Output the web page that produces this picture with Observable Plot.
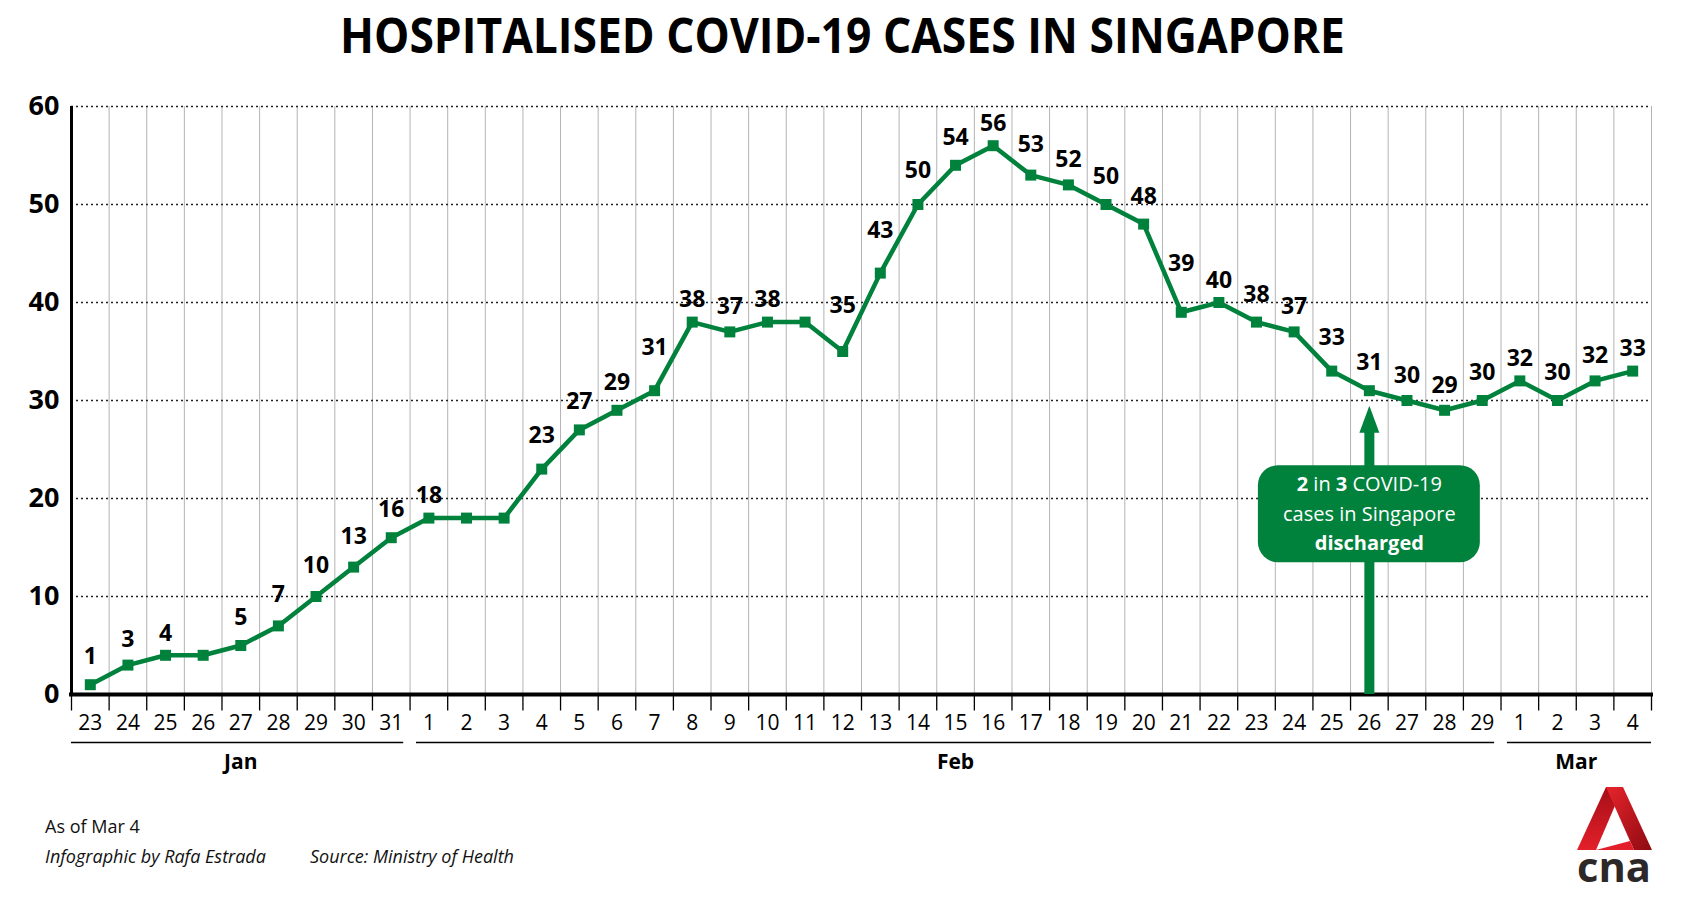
<!DOCTYPE html>
<html>
<head>
<meta charset="utf-8">
<script src="https://cdn.jsdelivr.net/npm/d3@7"></script>
<script src="https://cdn.jsdelivr.net/npm/@observablehq/plot@0.6"></script>
<style>
  body { margin: 0; background: #fff; font-family: "Open Sans", sans-serif; color: #000; }
  #page { position: relative; width: 1685px; height: 900px; overflow: hidden; background: #fff; }
  #title { position: absolute; top: 5px; left: 0; width: 1685px; text-align: center;
           font-weight: 700; font-size: 48px; line-height: 60px; transform: scaleX(0.925); white-space: nowrap; }
  #chart { position: absolute; top: 72px; left: 0; }
  .note { position: absolute; font-size: 18px; line-height: 24px; color: #111; white-space: nowrap; }
  .note.it { font-style: italic; }
  #logo { position: absolute; left: 1572px; top: 782px; overflow: visible; }
</style>
</head>
<body>
<div id="page">
  <div id="title">HOSPITALISED COVID-19 CASES IN SINGAPORE</div>
  <div id="chart"></div>
  <div class="note" style="left:45px; top:814px;">As of Mar 4</div>
  <div class="note it" style="left:45px; top:844px;">Infographic by Rafa Estrada</div>
  <div class="note it" style="left:310px; top:844px;">Source: Ministry of Health</div>
  <svg id="logo" width="90" height="112" viewBox="-5 -5 90 112">
    <defs>
      <linearGradient id="legL" x1="0" y1="0" x2="0" y2="1">
        <stop offset="0" stop-color="#a50e18"/><stop offset="1" stop-color="#e3202a"/>
      </linearGradient>
      <linearGradient id="legR" x1="0" y1="0" x2="1" y2="1">
        <stop offset="0" stop-color="#e8242b"/><stop offset="1" stop-color="#8e0a12"/>
      </linearGradient>
    </defs>
    <polygon points="0,63 29,0 46,0 19,63" fill="url(#legL)"/>
    <polygon points="29,0 46,0 75,63 57,63" fill="url(#legR)"/>
    <polygon points="19,63 53,54 57,63" fill="#e3202a"/>
    <text x="0" y="95" font-family="Open Sans, sans-serif" font-weight="700" font-size="42"
          fill="#2b2827" textLength="74" lengthAdjust="spacingAndGlyphs">cna</text>
  </svg>
</div>
<script>
// Day-of-month labels for each reporting day, 23 Jan to 4 Mar
const dayLabels = ["23","24","25","26","27","28","29","30","31",
  "1","2","3","4","5","6","7","8","9","10","11","12","13","14","15","16","17","18","19","20",
  "21","22","23","24","25","26","27","28","29",
  "1","2","3","4"];
const monthNames = ["Jan", "Feb", "Mar"];

// Patients in hospital on each day
const hospitalised = [1, 3, 4, 4, 5, 7, 10, 13, 16,
  18, 18, 18, 23, 27, 29, 31, 38, 37, 38, 38, 35, 43, 50, 54, 56, 53, 52, 50, 48,
  39, 40, 38, 37, 33, 31, 30, 29, 30,
  32, 30, 32, 33];

const yTicks = [0, 10, 20, 30, 40, 50, 60];

// Call-out pointing at 26 Feb
const calloutDay = 34;
const calloutLines = [
  [["2", true], [" in ", false], ["3", true], [" COVID-19", false]],
  [["cases in Singapore", false]],
  [["discharged", true]]
];

const green = "#00813c";
const n = hospitalised.length;

const rows = hospitalised.map((v, i) => ({
  i, v, day: dayLabels[i],
  prev: i > 0 ? hospitalised[i - 1] : v,
  next: i < n - 1 ? hospitalised[i + 1] : v
}));

// Month spans: a new month starts when the day number resets
const months = [];
dayLabels.forEach((d, i) => {
  if (i === 0 || +d < +dayLabels[i - 1]) months.push({name: monthNames[months.length], start: i, end: i});
  else months[months.length - 1].end = i;
});

// Column boundaries (between days)
const bounds = d3.range(-0.5, n, 1);

// Labels only where the value changes; lifted further where a neighbour is higher
const labelled = rows.filter(d => d.i === 0 || d.v !== d.prev);
const labelY = d => d.v + 2.25 + 0.3 * Math.max(0, d.prev - d.v, d.next - d.v);

const tickMark = {draw(ctx) { ctx.moveTo(0, 0); ctx.lineTo(0, 16); }};
const arrowHead = {draw(ctx) { ctx.moveTo(0, 15); ctx.lineTo(10, 42); ctx.lineTo(-10, 42); ctx.closePath(); }};

const gap = 0.17;
const callout = [{i: calloutDay, v: hospitalised[calloutDay]}];
const boxMid = 18.4;

const plot = Plot.plot({
  width: 1685,
  height: 730,
  marginTop: 34,
  marginBottom: 108,
  marginLeft: 71,
  marginRight: 34,
  x: {domain: [-0.5, n - 0.5], axis: null},
  y: {domain: [0, 60], axis: null},
  style: {fontFamily: "Open Sans, sans-serif", fontSize: "21px", color: "#000", background: "transparent", overflow: "visible"},
  marks: [
    // vertical day separators
    Plot.ruleX(bounds.slice(1), {x: d => d, y1: 0, y2: 60, stroke: "#b3b3b3", strokeWidth: 1}),
    // dotted horizontal grid
    Plot.ruleY(yTicks.slice(1), {y: d => d, x1: -0.5, x2: n - 0.5, stroke: "#222", strokeWidth: 1.3, strokeDasharray: "2,3"}),
    // ticks under the baseline
    Plot.dot(bounds, {x: d => d, y: 0, symbol: tickMark, fill: "none", stroke: "#000", strokeWidth: 1.3}),
    // y axis line and baseline
    Plot.ruleX([-0.5], {x: d => d, y1: 0, y2: 60, stroke: "#000", strokeWidth: 3}),
    Plot.ruleY([0], {y: d => d, x1: -0.5, x2: n - 0.5, stroke: "#000", strokeWidth: 4, strokeLinecap: "square"}),
    // y tick labels
    Plot.text(yTicks, {x: -0.5, y: d => d, text: d => String(d), textAnchor: "end", dx: -12, fontSize: 27, fontWeight: 700}),
    // day labels
    Plot.text(rows, {x: "i", y: 0, text: "day", dy: 29, fontSize: 21}),
    // month brackets and names
    Plot.ruleY(months, {y: 0, dy: 48,
      x1: d => d.start === 0 ? -0.5 : d.start - 0.5 + gap,
      x2: d => d.end === n - 1 ? n - 0.5 : d.end + 0.5 - gap,
      stroke: "#000", strokeWidth: 1.5}),
    Plot.text(months, {x: d => (d.start + d.end) / 2, y: 0, dy: 68, text: "name", fontSize: 21, fontWeight: 700}),
    // call-out arrow
    Plot.ruleX(callout, {x: "i", y1: "v", y2: 0, insetTop: 40, stroke: green, strokeWidth: 10}),
    Plot.dot(callout, {x: "i", y: "v", symbol: arrowHead, fill: green, stroke: "none"}),
    Plot.rect(callout, {x1: d => d.i - 2.95, x2: d => d.i + 2.95, y1: boxMid - 4.95, y2: boxMid + 4.95, rx: 20, fill: green}),
    ...calloutLines.map((parts, k) =>
      Plot.text(callout, {x: "i", y: boxMid, dy: (k - 1) * 29.5, text: () => parts.map(p => p[0]).join(""),
        fill: "#fff", fontSize: 20, fontWeight: parts.length === 1 && parts[0][1] ? 700 : 400})),
    // the series
    Plot.line(rows, {x: "i", y: "v", stroke: green, strokeWidth: 4.5, strokeLinejoin: "miter"}),
    Plot.dot(rows, {x: "i", y: "v", symbol: "square", r: 6.2, fill: green, stroke: "none"}),
    Plot.text(labelled, {x: "i", y: labelY, text: d => String(d.v), fontSize: 23, fontWeight: 700})
  ]
});

// mixed-weight runs in the call-out's first line
const ns = "http://www.w3.org/2000/svg";
plot.querySelectorAll("text").forEach(t => {
  const parts = calloutLines.find(p => p.length > 1 && p.map(q => q[0]).join("") === t.textContent);
  if (!parts) return;
  t.textContent = "";
  t.setAttribute("style", "white-space: pre");
  parts.forEach(([s, bold]) => {
    const ts = document.createElementNS(ns, "tspan");
    ts.textContent = s;
    ts.setAttribute("font-weight", bold ? "700" : "400");
    t.appendChild(ts);
  });
});

document.getElementById("chart").appendChild(plot);
</script>
</body>
</html>
